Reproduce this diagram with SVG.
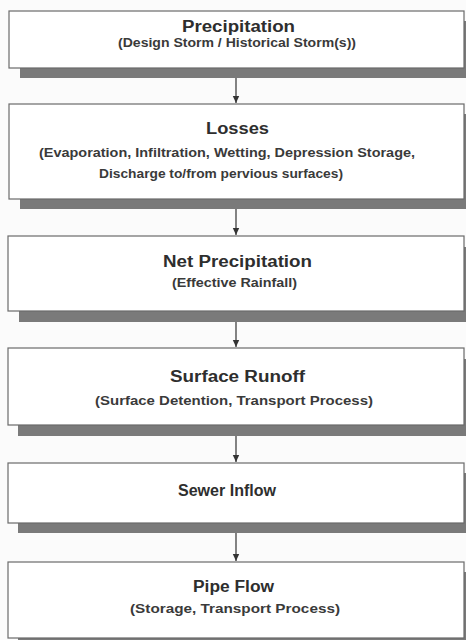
<svg xmlns="http://www.w3.org/2000/svg" width="466" height="640" viewBox="0 0 466 640">
<defs>
<marker id="ah" markerWidth="8" markerHeight="8" refX="7" refY="4" orient="auto" markerUnits="userSpaceOnUse">
<path d="M0,0.8 L7,4 L0,7.2 Z" fill="#333"/>
</marker>
<style>
.box{fill:#fff;stroke:#6a6a6a;stroke-width:1.2}
.sh{fill:#7a7a7a}
.t{font-family:"Liberation Sans",Arial,sans-serif;font-weight:bold;fill:#2e2e2e;font-size:16px}
.s{font-family:"Liberation Sans",Arial,sans-serif;font-weight:bold;fill:#3a3a3a;font-size:12.5px}
.c{stroke:#333;stroke-width:1.2;fill:none;marker-end:url(#ah)}
</style>
</defs>
<rect width="466" height="640" fill="#fbfbfb"/>
<g id="connectors">
<line class="c" x1="236" y1="78" x2="236" y2="103"/>
<line class="c" x1="236" y1="209" x2="236" y2="235"/>
<line class="c" x1="236" y1="322" x2="236" y2="347"/>
<line class="c" x1="236" y1="436" x2="236" y2="462"/>
<line class="c" x1="236" y1="533" x2="236" y2="561"/>
</g>
<g id="precipitation">
<rect class="sh" x="20" y="21" width="455" height="57"/>
<rect class="box" x="9" y="11" width="455" height="57"/>
<text class="t" x="182" y="32" textLength="113" lengthAdjust="spacingAndGlyphs">Precipitation</text>
<text class="s" x="118" y="47" textLength="238" lengthAdjust="spacingAndGlyphs">(Design Storm / Historical Storm(s))</text>
</g>
<g id="losses">
<rect class="sh" x="20" y="114" width="455" height="95"/>
<rect class="box" x="9" y="104" width="455" height="95"/>
<text class="t" x="206" y="134" textLength="63" lengthAdjust="spacingAndGlyphs">Losses</text>
<text class="s" x="39" y="157" textLength="376" lengthAdjust="spacingAndGlyphs">(Evaporation, Infiltration, Wetting, Depression Storage,</text>
<text class="s" x="99" y="178" textLength="244" lengthAdjust="spacingAndGlyphs">Discharge to/from pervious surfaces)</text>
</g>
<g id="net-precipitation">
<rect class="sh" x="19" y="247" width="455" height="75"/>
<rect class="box" x="8" y="236" width="456" height="75"/>
<text class="t" x="163" y="267" textLength="149" lengthAdjust="spacingAndGlyphs">Net Precipitation</text>
<text class="s" x="172" y="287" textLength="125" lengthAdjust="spacingAndGlyphs">(Effective Rainfall)</text>
</g>
<g id="surface-runoff">
<rect class="sh" x="18" y="359" width="455" height="77"/>
<rect class="box" x="8" y="348" width="456" height="77"/>
<text class="t" x="170" y="382" textLength="135" lengthAdjust="spacingAndGlyphs">Surface Runoff</text>
<text class="s" x="95" y="405" textLength="278" lengthAdjust="spacingAndGlyphs">(Surface Detention, Transport Process)</text>
</g>
<g id="sewer-inflow">
<rect class="sh" x="18" y="473" width="455" height="60"/>
<rect class="box" x="8" y="463" width="456" height="60"/>
<text class="t" x="178" y="496" textLength="98" lengthAdjust="spacingAndGlyphs">Sewer Inflow</text>
</g>
<g id="pipe-flow">
<rect class="sh" x="18" y="572" width="455" height="76"/>
<rect class="box" x="8" y="562" width="456" height="76"/>
<text class="t" x="193" y="592" textLength="81" lengthAdjust="spacingAndGlyphs">Pipe Flow</text>
<text class="s" x="130" y="613" textLength="210" lengthAdjust="spacingAndGlyphs">(Storage, Transport Process)</text>
</g>
</svg>
